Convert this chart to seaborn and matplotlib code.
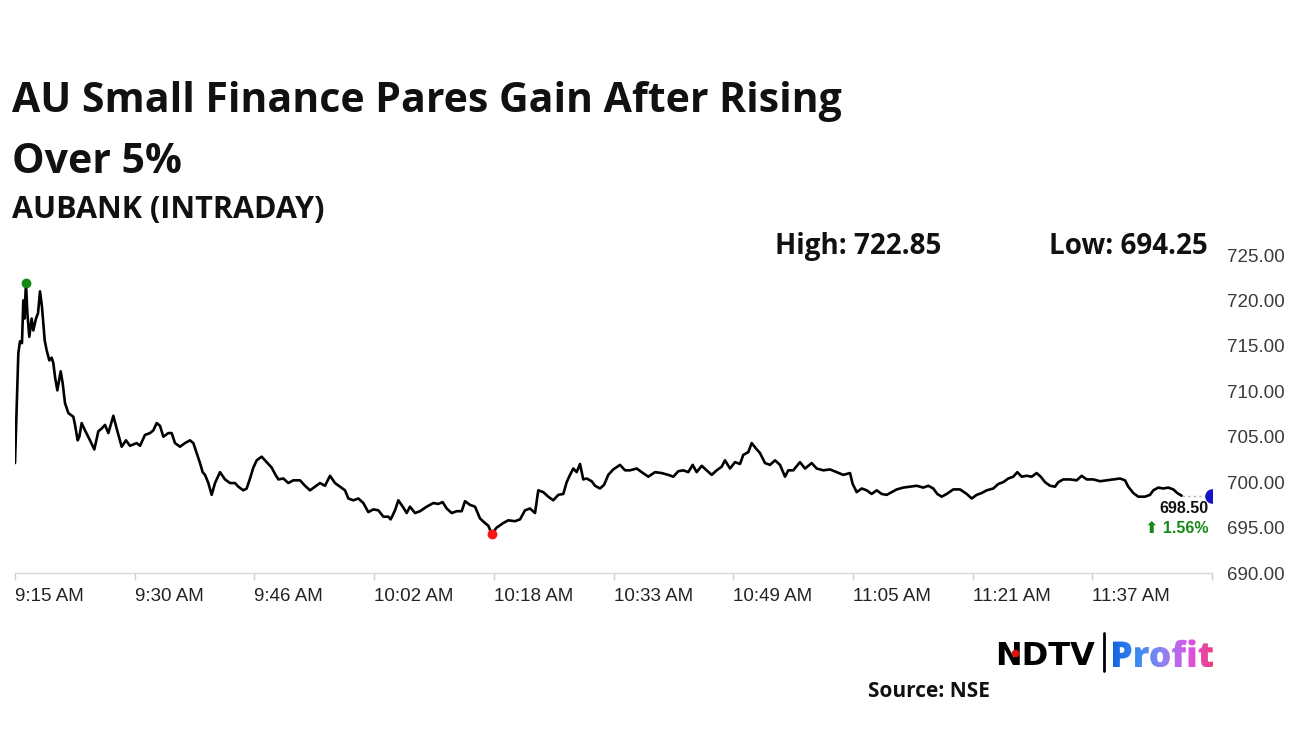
import numpy as np
import matplotlib
matplotlib.use("Agg")
import matplotlib.pyplot as plt
import seaborn as sns
from matplotlib.textpath import TextPath
from matplotlib.patches import PathPatch
from matplotlib.font_manager import FontProperties
from matplotlib.colors import LinearSegmentedColormap

# -------------------------------
# Data (minutes after 9:15 AM, price in Rs)
# -------------------------------
minutes = [
    0.0, 0.44, 0.66, 0.92, 1.10, 1.23, 1.45, 1.63, 1.89, 2.20, 2.42, 2.77, 3.04, 3.30, 3.56,
    3.92, 4.18, 4.53, 4.84, 5.06, 5.28, 5.59, 6.03, 6.29, 6.60, 7.04, 7.70, 7.92, 8.27, 8.49,
    8.80, 9.24, 9.90, 10.47, 11.00, 11.44, 11.88, 12.32, 12.98, 13.42, 14.08, 14.65, 15.18, 16.06, 16.50,
    17.16, 17.82, 18.26, 18.70, 19.14, 19.58, 20.24, 20.68, 21.12, 21.78, 22.44, 23.10, 23.54, 23.98, 24.42,
    24.77, 25.08, 25.52, 25.96, 26.40, 27.06, 27.72, 28.38, 29.04, 29.48, 30.14, 30.58, 31.02, 31.46, 31.90,
    32.56, 33.22, 33.88, 34.32, 34.76, 35.42, 36.08, 36.74, 37.62, 38.28, 38.94, 39.60, 40.26, 40.92, 41.58,
    42.24, 42.90, 43.56, 44.00, 44.66, 45.32, 45.98, 46.64, 47.30, 47.96, 48.62, 49.28, 49.59, 50.16, 50.60,
    51.26, 51.70, 52.14, 52.80, 53.46, 54.34, 55.22, 55.87, 56.45, 56.98, 57.64, 58.30, 58.96, 59.40, 60.06,
    60.72, 61.38, 62.04, 62.48, 62.92, 63.58, 64.45, 65.11, 66.00, 66.66, 67.32, 67.98, 68.64, 69.07, 69.73,
    70.39, 71.05, 71.71, 72.37, 72.82, 73.26, 73.69, 74.14, 74.58, 75.01, 75.46, 76.12, 76.56, 77.22, 77.75,
    78.31, 78.97, 79.86, 80.52, 81.18, 82.06, 82.72, 83.60, 84.48, 85.36, 86.23, 86.89, 87.55, 88.21, 88.87,
    89.45, 89.98, 90.64, 91.30, 91.96, 92.62, 93.28, 93.72, 94.38, 95.04, 95.70, 96.13, 96.79, 97.24, 97.81,
    98.34, 99.00, 99.66, 100.32, 100.98, 101.64, 102.07, 102.73, 103.61, 104.28, 105.16, 105.82, 106.69, 107.58, 108.46,
    109.33, 110.22, 110.57, 111.10, 111.76, 112.42, 113.08, 113.74, 114.40, 115.06, 115.72, 116.38, 117.25, 118.14, 119.02,
    119.89, 120.55, 121.21, 121.74, 122.32, 122.98, 123.85, 124.74, 125.62, 126.28, 126.94, 127.60, 128.26, 129.13, 129.79,
    130.45, 131.11, 131.77, 132.30, 132.88, 133.54, 134.20, 134.86, 135.39, 135.96, 136.62, 137.28, 137.71, 138.37, 139.26,
    140.14, 140.80, 141.46, 142.33, 143.22, 144.10, 144.97, 145.86, 146.52, 146.95, 147.61, 148.27, 149.16, 149.82, 150.25,
    150.91, 151.57, 152.23, 152.89, 153.42, 154.00,
]
prices = [
    702.1, 714.2, 715.5, 715.3, 720.0, 718.0, 721.9, 718.6, 716.0, 718.0, 716.7, 718.0, 718.6, 721.0, 719.3,
    715.6, 714.5, 713.4, 713.7, 713.1, 711.6, 710.1, 712.2, 710.9, 708.7, 707.6, 707.2, 706.3, 704.6, 705.0,
    706.5, 705.7, 704.6, 703.6, 705.6, 705.9, 706.3, 705.4, 707.3, 705.9, 703.9, 704.6, 704.0, 704.3, 704.0,
    705.2, 705.4, 705.7, 706.5, 706.2, 705.0, 705.4, 705.4, 704.3, 703.9, 704.3, 704.6, 704.3, 703.2, 702.1,
    701.1, 700.8, 699.9, 698.6, 699.9, 701.1, 700.3, 699.9, 699.9, 699.5, 699.1, 699.3, 700.4, 701.6, 702.4,
    702.8, 702.2, 701.6, 700.9, 700.3, 700.4, 699.9, 700.2, 700.2, 699.6, 699.1, 699.5, 699.9, 699.6, 700.7,
    699.9, 699.5, 699.1, 698.2, 698.0, 698.2, 697.7, 696.7, 697.0, 696.9, 696.2, 696.2, 695.9, 696.9, 698.0,
    697.2, 696.6, 697.3, 696.6, 696.8, 697.3, 697.7, 697.6, 697.8, 697.1, 696.6, 696.8, 696.8, 697.9, 697.5,
    697.3, 696.0, 695.5, 695.2, 694.3, 695.0, 695.5, 695.8, 695.7, 695.9, 696.9, 697.1, 696.6, 699.1, 698.9,
    698.4, 698.0, 698.6, 698.7, 700.0, 700.8, 701.5, 701.1, 702.0, 700.3, 700.4, 700.1, 699.6, 699.3, 699.7,
    700.8, 701.4, 701.9, 701.3, 701.3, 701.5, 701.1, 700.6, 701.1, 701.0, 700.8, 700.6, 701.2, 701.3, 701.1,
    701.9, 701.1, 701.8, 701.3, 700.8, 701.3, 701.7, 702.4, 701.5, 702.2, 702.0, 703.0, 703.3, 704.3, 703.7,
    703.2, 702.1, 701.9, 702.4, 701.9, 700.6, 701.3, 701.3, 702.2, 701.5, 702.1, 701.5, 701.3, 701.4, 701.1,
    700.8, 701.0, 699.8, 698.9, 699.3, 699.1, 698.7, 699.1, 698.7, 698.6, 698.9, 699.2, 699.4, 699.5, 699.6,
    699.4, 699.6, 699.3, 698.7, 698.4, 698.7, 699.2, 699.2, 698.7, 698.2, 698.6, 698.8, 699.1, 699.3, 699.8,
    700.0, 700.4, 700.6, 701.1, 700.6, 700.7, 700.6, 701.0, 700.6, 700.0, 699.6, 699.5, 700.0, 700.3, 700.3,
    700.2, 700.7, 700.3, 700.3, 700.1, 700.2, 700.3, 700.4, 700.2, 699.5, 698.8, 698.4, 698.4, 698.6, 699.1,
    699.4, 699.3, 699.4, 699.2, 698.8, 698.5,
]

last_minute = 158
last_price = 698.50
change_pct = 1.56
day_high = 722.85
day_low = 694.25

tick_labels = ["9:15 AM", "9:30 AM", "9:46 AM", "10:02 AM", "10:18 AM", "10:33 AM",
               "10:49 AM", "11:05 AM", "11:21 AM", "11:37 AM", ""]
y_ticks = [690, 695, 700, 705, 710, 715, 720, 725]

# -------------------------------
# Figure setup
# -------------------------------
sns.set_theme(style="white")
plt.rcParams['font.family'] = ['Liberation Sans', 'DejaVu Sans']

W, H = 1296, 729
fig = plt.figure(figsize=(W / 100, H / 100), dpi=100)
fig.patch.set_facecolor("white")


def fx(px):
    return px / W


def fy(py):
    return 1 - py / H


ax = fig.add_axes([fx(15), fy(573), fx(1212) - fx(15), fy(255) - fy(573)])

sns.lineplot(x=minutes, y=prices, ax=ax, color="black",
             linewidth=1.9, sort=False, estimator=None)

# faint connector to the last traded price
ax.plot([minutes[-1], last_minute], [prices[-1], last_price], color="#bbbbbb",
        linestyle=(0, (2, 2)), linewidth=1)

# high / low / last markers
hi_idx = int(np.argmax(prices))
lo_idx = int(np.argmin(prices))
ax.scatter([minutes[hi_idx]], [prices[hi_idx]], s=50, color="#138a13", zorder=5, linewidths=0)
ax.scatter([minutes[lo_idx]], [prices[lo_idx]], s=50, color="#ff1414", zorder=5, linewidths=0)
ax.scatter([last_minute], [last_price], s=110, color="#1414c8", zorder=5, linewidths=0, clip_on=True)

ax.text(minutes[-1] + 3.6, last_price - 1.45, f"{last_price:.2f}", ha="right", va="center",
        fontsize=11.5, color="#111111", fontweight="bold")
ax.text(minutes[-1] + 3.6, last_price - 3.55, f"\u2b06 {change_pct:.2f}%", ha="right", va="center",
        fontsize=11.5, color="#168a16", fontweight="bold")

ax.set_xlim(0, last_minute)
ax.set_ylim(690, 725)

ax.set_xticks(np.linspace(0, last_minute, len(tick_labels)))
ax.set_xticklabels(tick_labels)
for lab in ax.get_xticklabels():
    lab.set_ha("left")
ax.set_yticks(y_ticks)
ax.set_yticklabels([f"{v:.2f}" for v in y_ticks])

ax.tick_params(axis="x", bottom=True, length=5, width=1, color="#d0d0d0", pad=6,
               labelsize=13.5, labelcolor="#222222")
ax.tick_params(axis="y", left=False, right=False, labelleft=False, labelright=True,
               length=0, pad=10.5, labelsize=13.5, labelcolor="#3a3a3a")

for side in ["top", "left", "right"]:
    ax.spines[side].set_visible(False)
ax.spines["bottom"].set_color("#d8d8d8")
ax.spines["bottom"].set_linewidth(1)
ax.set_xlabel("")
ax.set_ylabel("")
ax.grid(False)

# -------------------------------
# Titles and annotations
# -------------------------------
title_font = ['Open Sans', 'DejaVu Sans']
fig.text(fx(12), fy(112), "AU Small Finance Pares Gain After Rising", fontsize=29.5,
         fontweight="bold", family=title_font, va="baseline", color="#111111")
fig.text(fx(12), fy(173), "Over 5%", fontsize=29.5, fontweight="bold",
         family=title_font, va="baseline", color="#111111")
fig.text(fx(12), fy(218), "AUBANK (INTRADAY)", fontsize=22, fontweight="bold",
         family=title_font, va="baseline", color="#111111")

fig.text(fx(775), fy(254), f"High: {day_high:.2f}", fontsize=20, fontweight="bold",
         family=title_font, va="baseline", color="#111111")
fig.text(fx(1208), fy(254), f"Low: {day_low:.2f}", fontsize=20, fontweight="bold",
         family=title_font, va="baseline", ha="right", color="#111111")

fig.text(fx(868), fy(697), "Source: NSE", fontsize=15, fontweight="bold",
         family=title_font, va="baseline", color="#111111")

# -------------------------------
# NDTV Profit logo
# -------------------------------
fig.text(fx(995), fy(665), "NDTV", fontsize=23, fontweight="bold", family=['DejaVu Sans'],
         va="baseline", color="black", zorder=3)
fig.add_artist(plt.Line2D([fx(1015)], [fy(653)], marker="o", markersize=4.5,
                          color="#e01010", transform=fig.transFigure, zorder=6))
fig.add_artist(plt.Line2D([fx(1104), fx(1104)], [fy(633), fy(671)], color="black",
                          linewidth=2, transform=fig.transFigure))

fp = FontProperties(family='Open Sans', weight='heavy')
tp = TextPath((0, 0), "Profit", size=100, prop=fp)
bb = tp.get_extents()
logo_w = 100
logo_h = logo_w * bb.height / bb.width
logo_ax = fig.add_axes([fx(1113), fy(667) - (0 - bb.y0) / bb.height * logo_h / H,
                        logo_w / W, logo_h / H])
logo_ax.set_xlim(bb.x0, bb.x1)
logo_ax.set_ylim(bb.y0, bb.y1)
logo_ax.axis("off")
grad_cmap = LinearSegmentedColormap.from_list(
    "profit", ["#1565e0", "#3a8cf0", "#8e84f2", "#d955ea", "#ef3c7e"])
grad = np.linspace(0, 1, 256).reshape(1, -1)
im = logo_ax.imshow(grad, extent=(bb.x0, bb.x1, bb.y0, bb.y1), aspect="auto", cmap=grad_cmap)
patch = PathPatch(tp, transform=logo_ax.transData, facecolor="none", edgecolor="none")
logo_ax.add_patch(patch)
im.set_clip_path(patch)

fig.savefig("out.png", dpi=100, facecolor="white")
